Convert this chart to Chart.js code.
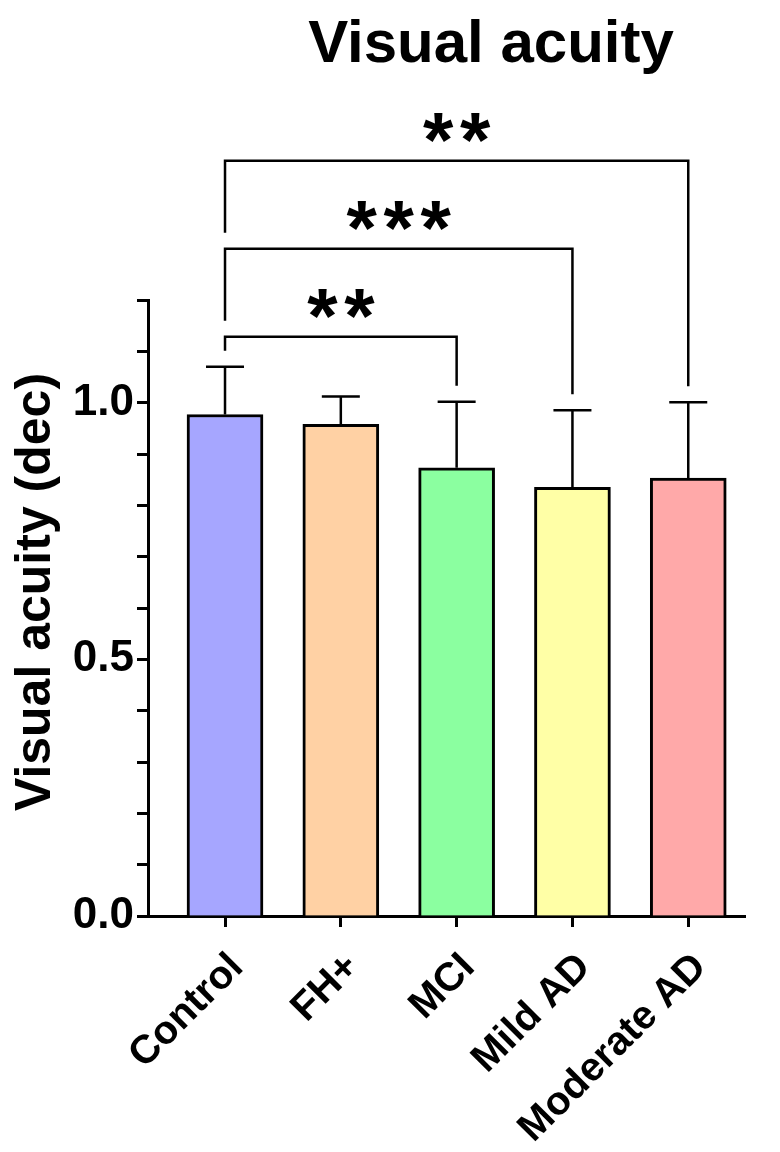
<!DOCTYPE html>
<html>
<head>
<meta charset="utf-8">
<script src="https://cdn.jsdelivr.net/npm/chart.js@4.4.1/dist/chart.umd.min.js"></script>
<style>
  html, body { margin: 0; padding: 0; background: #fff; }
  #wrap { width: 780px; height: 1152px; position: relative; }
</style>
</head>
<body>
<div id="wrap"><canvas id="acuity"></canvas></div>
<script>
// values
var categories = ['Control', 'FH+', 'MCI', 'Mild AD', 'Moderate AD'];
var means = [0.977, 0.958, 0.873, 0.835, 0.853];
var sd = [0.093, 0.054, 0.129, 0.150, 0.148];
var barColours = ['#a6a6ff', '#ffd1a4', '#8bffa0', '#ffffa6', '#ffa9a9'];
// significance brackets: [from, to, stars]
var comparisons = [[0, 2, '**'], [0, 3, '***'], [0, 4, '**']];

var chartTitle = 'Visual acuity';
var yTitle = 'Visual acuity (dec)';

var FONT = '"Liberation Sans", Arial, sans-serif';

var extras = {
	id: 'extras',
	afterDatasetsDraw: function(chart) {
		var ctx = chart.ctx;
		var x = chart.scales.x;
		var y = chart.scales.y;
		ctx.save();
		ctx.strokeStyle = '#000';
		ctx.lineWidth = 2.5;

		// error bars (upper only)
		var tops = [];
		for (var i = 0; i < means.length; i++) {
			var px = x.getPixelForValue(i);
			var base = y.getPixelForValue(means[i]);
			var top = y.getPixelForValue(means[i] + sd[i]);
			tops.push(top);
			ctx.beginPath();
			ctx.moveTo(px, base);
			ctx.lineTo(px, top);
			ctx.moveTo(px - 19, top);
			ctx.lineTo(px + 19, top);
			ctx.stroke();
		}

		// brackets
		var level = null;
		var leftFloor = tops[comparisons[0][0]];
		comparisons.forEach(function(c) {
			var a = c[0], b = c[1];
			if (level === null) {
				var hi = Infinity;
				for (var k = a; k <= b; k++) hi = Math.min(hi, tops[k]);
				level = hi - 30;
			} else {
				level = level - 88;
			}
			var xa = x.getPixelForValue(a);
			var xb = x.getPixelForValue(b);
			ctx.beginPath();
			ctx.moveTo(xa, leftFloor - 16);
			ctx.lineTo(xa, level);
			ctx.lineTo(xb, level);
			ctx.lineTo(xb, tops[b] - 16);
			ctx.stroke();
			leftFloor = level;

			// stars
			ctx.fillStyle = '#000';
			ctx.font = 'bold 78px ' + FONT;
			ctx.textAlign = 'center';
			ctx.textBaseline = 'alphabetic';
			var m = ctx.measureText('*');
			var cy = level - 33;
			var by = cy + (m.actualBoundingBoxAscent - m.actualBoundingBoxDescent) / 2;
			var n = c[2].length;
			var mid = (xa + xb) / 2;
			for (var s = 0; s < n; s++) {
				ctx.fillText('*', mid + (s - (n - 1) / 2) * 37, by);
			}
		});

		// chart title
		ctx.fillStyle = '#000';
		ctx.font = 'bold 60px ' + FONT;
		ctx.textAlign = 'center';
		ctx.textBaseline = 'alphabetic';
		ctx.fillText(chartTitle, 491, 62);

		// y axis title
		ctx.save();
		ctx.translate(50, 592);
		ctx.rotate(-Math.PI / 2);
		ctx.font = 'bold 50px ' + FONT;
		ctx.textAlign = 'center';
		ctx.fillText(yTitle, 0, 0);
		ctx.restore();

		ctx.restore();
	}
};

var barData = means.map(function(m, i) { return { x: i, y: m }; });

var config = {
	type: 'bar',
	data: {
		datasets: [{
			data: barData,
			backgroundColor: barColours,
			borderColor: '#000',
			borderWidth: 3,
			barThickness: 76
		}]
	},
	options: {
		responsive: true,
		maintainAspectRatio: false,
		animation: false,
		layout: { padding: { top: 300, right: 35, left: 0, bottom: 0 } },
		plugins: {
			legend: { display: false },
			tooltip: { enabled: false },
			title: { display: false }
		},
		scales: {
			x: {
				type: 'linear',
				offset: false,
				min: -0.665,
				max: 4.49,
				afterBuildTicks: function(scale) {
					scale.ticks = categories.map(function(c, i) { return { value: i }; });
				},
				afterFit: function(scale) {
					scale.height = 236;
					scale.paddingLeft = 0;
					scale.paddingRight = 0;
				},
				border: { display: true, color: '#000', width: 3 },
				grid: { offset: false, drawOnChartArea: false, drawTicks: true, tickLength: 11, tickWidth: 3, tickColor: '#000' },
				ticks: {
					autoSkip: false,
					minRotation: 45,
					maxRotation: 45,
					color: '#000',
					padding: 17,
					labelOffset: 12,
					font: { family: FONT, size: 40, weight: 'bold' },
					callback: function(value) { return categories[Math.round(value)]; }
				}
			},
			y: {
				min: 0,
				max: 1.2,
				afterFit: function(scale) {
					scale.width = 148;
					scale.paddingTop = 0;
					scale.paddingBottom = 0;
				},
				border: { display: true, color: '#000', width: 3 },
				grid: { drawOnChartArea: false, drawTicks: true, tickLength: 11, tickWidth: 3, tickColor: '#000' },
				ticks: {
					stepSize: 0.1,
					maxTicksLimit: 20,
					autoSkip: false,
					color: '#000',
					padding: 3,
					font: { family: FONT, size: 44, weight: 'bold' },
					callback: function(v) {
						var t = Math.round(v * 10);
						return t % 5 === 0 ? (t / 10).toFixed(1) : '';
					}
				}
			}
		}
	},
	plugins: [extras]
};

var ctx = document.getElementById('acuity').getContext('2d');
window.acuityChart = new Chart(ctx, config);
</script>
</body>
</html>
